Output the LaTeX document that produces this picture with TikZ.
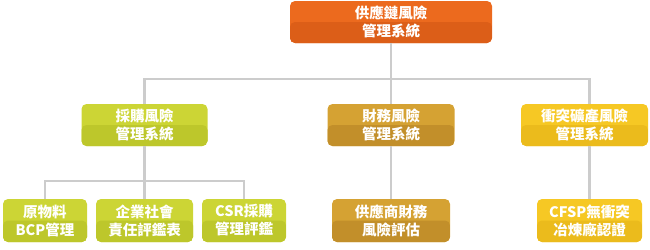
\documentclass[tikz,border=0pt]{standalone}
\usepackage{fontspec}
\usepackage{xcolor}
\usepackage{tikz}
\newfontfamily\tcfont{Noto Sans CJK TC}

\definecolor{orgtop}{HTML}{EC6A1E}
\definecolor{orgbot}{HTML}{DC5E18}
\definecolor{grntop}{HTML}{CCD535}
\definecolor{grnbot}{HTML}{BDC72B}
\definecolor{goldtop}{HTML}{D5A233}
\definecolor{goldbot}{HTML}{C28F2A}
\definecolor{ylwtop}{HTML}{F6C824}
\definecolor{ylwbot}{HTML}{EBBB1C}
\definecolor{linkgray}{HTML}{CCCCCC}

\tikzset{
  box/.style 2 args={rounded corners=5pt, fill=#1, inner sep=0pt,
    align=center, text=white, font=\tcfont\bfseries\fontsize{14.5}{18}\selectfont,
    path picture={\fill[#2] (path picture bounding box.west) rectangle (path picture bounding box.south east);}},
  link/.style={draw=linkgray, line width=2.6pt}
}

\begin{document}
\begin{tikzpicture}[x=1pt,y=-1pt]
\useasboundingbox (0,0) rectangle (650,249);
% top
\node[box={orgtop}{orgbot}, minimum width=202pt, minimum height=42pt] (risk) at (391,22) {供應鏈風險\\管理系統};
% second row
\node[box={grntop}{grnbot}, minimum width=126pt, minimum height=42pt] (buy) at (144.5,125) {採購風險\\管理系統};
\node[box={goldtop}{goldbot}, minimum width=127pt, minimum height=42pt] (fin) at (391,125) {財務風險\\管理系統};
\node[box={ylwtop}{ylwbot}, minimum width=127pt, minimum height=42pt] (mine) at (584.5,125) {衝突礦產風險\\管理系統};
% third row
\node[box={grntop}{grnbot}, minimum width=84pt, minimum height=43pt] (bcp) at (45,220.5) {原物料\\BCP管理};
\node[box={grntop}{grnbot}, minimum width=97pt, minimum height=43pt] (csr) at (144.5,220.5) {企業社會\\責任評鑑表};
\node[box={grntop}{grnbot}, minimum width=84pt, minimum height=43pt] (csrbuy) at (244,220.5) {CSR採購\\管理評鑑};
\node[box={goldtop}{goldbot}, minimum width=118pt, minimum height=43pt] (supfin) at (391,220.5) {供應商財務\\風險評估};
\node[box={ylwtop}{ylwbot}, minimum width=105pt, minimum height=43pt] (cfsp) at (589.5,220.5) {CFSP無衝突\\冶煉廠認證};

\coordinate (bus) at (391,79);
\coordinate (buybus) at (144.5,181);

% connectors
\draw[link] (risk.south) -- (fin.north);
\draw[link] (buy.north) |- (bus) -| (mine.north -| cfsp.north);
\draw[link] (buy.south) -- (csr.north);
\draw[link] (bcp.north) |- (buybus) -| (csrbuy.north);
\draw[link] (fin.south) -- (supfin.north);
\draw[link] (mine.south -| cfsp.north) -- (cfsp.north);
\end{tikzpicture}
\end{document}
